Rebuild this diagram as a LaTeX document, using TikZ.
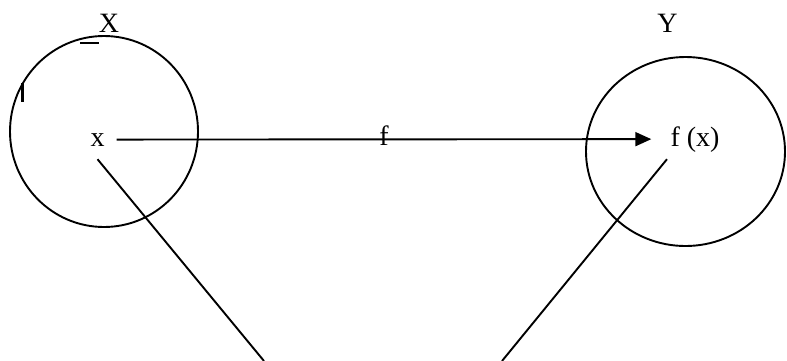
\documentclass[tikz,border=0pt]{standalone}
\usepackage{fontspec}
\setmainfont{Liberation Serif}
\usetikzlibrary{shapes.geometric,arrows.meta}
\begin{document}
\begin{tikzpicture}[x=1pt,y=-1pt,
  lbl/.style={inner sep=0pt,anchor=base,font=\fontsize{28}{33}\selectfont},
  setshape/.style={draw,ellipse,line width=1.9pt,inner sep=0pt},
  conn/.style={line width=1.9pt},
  arr/.style={line width=1.9pt,-{Triangle[length=16pt,width=14pt]}}]
\useasboundingbox (0,0) rectangle (787,360);
\node[setshape,minimum width=188pt,minimum height=191pt] (setX) at (104,131.5) {};
\node[setshape,minimum width=199pt,minimum height=189pt] (setY) at (685.5,151.5) {};
\node[lbl] (Xl) at (109,32) {X};
\node[lbl] (Yl) at (667.5,32) {Y};
\node[lbl] (xl) at (97.5,146) {x};
\node[lbl] (fx) at (695,146) {f (x)};
\draw[arr,shorten <=12pt,shorten >=19pt] (xl.east) -- (fx.west);
\node[lbl] (fl) at (384,145) {f};
\coordinate (bl) at (264,361);
\coordinate (br) at (502,361);
\draw[conn] ([yshift=-13pt]xl.south) -- (bl);
\draw[conn] ([xshift=-28pt,yshift=-7pt]fx.south) -- (br);
\draw[line width=2.6pt] (80,43) -- (99,43);
\draw[line width=2.4pt] (22.5,83) -- (22.5,102);
\end{tikzpicture}
\end{document}
